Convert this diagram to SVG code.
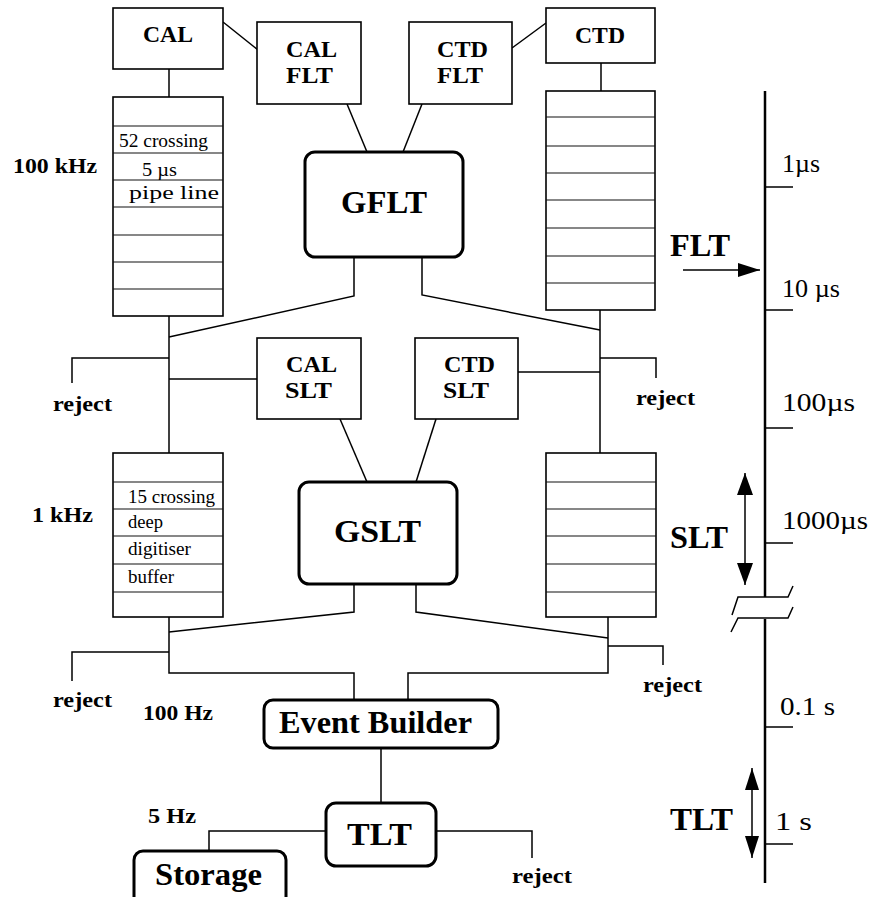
<svg xmlns="http://www.w3.org/2000/svg" width="871" height="897" viewBox="0 0 871 897">
<style>
.box{fill:#fff;stroke:#000;stroke-width:1.6}
.rbox{fill:#fff;stroke:#000;stroke-width:3}
.row{stroke:#111;stroke-width:1.2;fill:none}
.ln{stroke:#000;stroke-width:1.5;fill:none}
.ax{stroke:#000;stroke-width:2.5;fill:none}
.b{font-family:"Liberation Serif","Times New Roman",serif;font-weight:bold;fill:#000}
.r{font-family:"Liberation Serif","Times New Roman",serif;fill:#000}
</style>
<defs>
<marker id="ah" viewBox="0 0 22 14" refX="22" refY="7" markerWidth="22" markerHeight="14" markerUnits="userSpaceOnUse" orient="auto-start-reverse"><path d="M0,0 L22,7 L0,14 Z" fill="#000"/></marker>
<marker id="ah2" viewBox="0 0 22 16" refX="22" refY="8" markerWidth="22" markerHeight="16" markerUnits="userSpaceOnUse" orient="auto-start-reverse"><path d="M0,0 L22,8 L0,16 Z" fill="#000"/></marker>
</defs>
<rect width="871" height="897" fill="#fff"/>

<g id="connectors">
<path class="ln" d="M169,69 V97"/>
<path class="ln" d="M601,63 V91"/>
<path class="ln" d="M223,22 L258,50"/>
<path class="ln" d="M512,48 L546,23"/>
<path class="ln" d="M347,104 L367,152"/>
<path class="ln" d="M422,104 L403,152"/>
<path class="ln" d="M354,257 V296 L169,337"/>
<path class="ln" d="M422,257 V295 L600,330"/>
<path class="ln" d="M169,316 V453"/>
<path class="ln" d="M600,310 V453"/>
<path class="ln" d="M169,358 H72 V383"/>
<path class="ln" d="M169,379 H257"/>
<path class="ln" d="M518,372 H600"/>
<path class="ln" d="M600,358 H656 V378"/>
<path class="ln" d="M340,419 L367,482"/>
<path class="ln" d="M436,419 L416,482"/>
<path class="ln" d="M354,584 V612 L169,632"/>
<path class="ln" d="M416,584 V612 L608,638"/>
<path class="ln" d="M169,617 V673 H354 V700"/>
<path class="ln" d="M169,652 H72 V681"/>
<path class="ln" d="M608,617 V673 H408 V700"/>
<path class="ln" d="M608,646 H663 V665"/>
<path class="ln" d="M381,748 V803"/>
<path class="ln" d="M326,831 H209 V851"/>
<path class="ln" d="M436,831 H532 V858"/>
</g>

<g id="CAL"><rect class="box" x="113" y="8" width="110" height="61"/><text class="b" x="143" y="42" font-size="24" textLength="50" lengthAdjust="spacingAndGlyphs">CAL</text></g>
<g id="CTD"><rect class="box" x="546" y="8" width="109" height="55"/><text class="b" x="575" y="43" font-size="24" textLength="50" lengthAdjust="spacingAndGlyphs">CTD</text></g>
<g id="CAL_FLT"><rect class="box" x="257" y="22" width="104" height="82"/><text class="b" x="286" y="57" font-size="24" textLength="51" lengthAdjust="spacingAndGlyphs">CAL</text><text class="b" x="286" y="83" font-size="24" textLength="47" lengthAdjust="spacingAndGlyphs">FLT</text></g>
<g id="CTD_FLT"><rect class="box" x="409" y="22" width="103" height="82"/><text class="b" x="437" y="57" font-size="24" textLength="51" lengthAdjust="spacingAndGlyphs">CTD</text><text class="b" x="437" y="83" font-size="24" textLength="46" lengthAdjust="spacingAndGlyphs">FLT</text></g>

<g id="CAL_pipeline">
<rect class="box" x="113" y="97" width="110" height="219"/>
<path class="row" d="M113,126 H223 M113,153 H223 M113,180 H223 M113,207 H223 M113,235 H223 M113,262 H223 M113,289 H223"/>
<text class="r" x="119" y="147" font-size="19" textLength="89" lengthAdjust="spacingAndGlyphs">52 crossing</text>
<text class="r" x="142" y="176" font-size="19" textLength="35" lengthAdjust="spacingAndGlyphs">5 µs</text>
<text class="r" x="129" y="199" font-size="19" textLength="90" lengthAdjust="spacingAndGlyphs">pipe line</text>
</g>
<g id="CTD_pipeline">
<rect class="box" x="546" y="91" width="109" height="219"/>
<path class="row" d="M546,117 H655 M546,146 H655 M546,173 H655 M546,200 H655 M546,228 H655 M546,256 H655 M546,283 H655"/>
</g>

<g id="GFLT"><rect class="rbox" x="305" y="152" width="158" height="105" rx="10"/><text class="b" x="341" y="213" font-size="32" textLength="86" lengthAdjust="spacingAndGlyphs">GFLT</text></g>

<g id="CAL_SLT"><rect class="box" x="257" y="338" width="104" height="81"/><text class="b" x="286" y="372" font-size="24" textLength="51" lengthAdjust="spacingAndGlyphs">CAL</text><text class="b" x="285" y="398" font-size="24" textLength="47" lengthAdjust="spacingAndGlyphs">SLT</text></g>
<g id="CTD_SLT"><rect class="box" x="415" y="338" width="103" height="81"/><text class="b" x="444" y="372" font-size="24" textLength="51" lengthAdjust="spacingAndGlyphs">CTD</text><text class="b" x="443" y="398" font-size="24" textLength="46" lengthAdjust="spacingAndGlyphs">SLT</text></g>

<g id="CAL_buffer">
<rect class="box" x="113" y="453" width="110" height="164"/>
<path class="row" d="M113,482 H223 M113,509 H223 M113,536 H223 M113,564 H223 M113,592 H223"/>
<text class="r" x="128" y="503" font-size="19" textLength="87" lengthAdjust="spacingAndGlyphs">15 crossing</text>
<text class="r" x="128" y="528" font-size="19" textLength="35" lengthAdjust="spacingAndGlyphs">deep</text>
<text class="r" x="128" y="555" font-size="19" textLength="63" lengthAdjust="spacingAndGlyphs">digitiser</text>
<text class="r" x="128" y="583" font-size="19" textLength="46" lengthAdjust="spacingAndGlyphs">buffer</text>
</g>
<g id="CTD_buffer">
<rect class="box" x="546" y="453" width="110" height="164"/>
<path class="row" d="M546,482 H656 M546,509 H656 M546,536 H656 M546,564 H656 M546,592 H656"/>
</g>

<g id="GSLT"><rect class="rbox" x="299" y="482" width="158" height="102" rx="10"/><text class="b" x="334" y="542" font-size="32" textLength="87" lengthAdjust="spacingAndGlyphs">GSLT</text></g>

<g id="EventBuilder"><rect class="rbox" x="264" y="700" width="234" height="48" rx="9"/><text class="b" x="279" y="733" font-size="31" textLength="193" lengthAdjust="spacingAndGlyphs">Event Builder</text></g>
<g id="TLT"><rect class="rbox" x="326" y="803" width="110" height="63" rx="10"/><text class="b" x="347" y="845" font-size="32" textLength="65" lengthAdjust="spacingAndGlyphs">TLT</text></g>
<g id="Storage"><rect class="rbox" x="134" y="851" width="152" height="60" rx="9"/><text class="b" x="155" y="885" font-size="31" textLength="107" lengthAdjust="spacingAndGlyphs">Storage</text></g>

<g id="labels">
<text class="b" x="13" y="173" font-size="22" textLength="84" lengthAdjust="spacingAndGlyphs">100 kHz</text>
<text class="b" x="32" y="522" font-size="22" textLength="61" lengthAdjust="spacingAndGlyphs">1 kHz</text>
<text class="b" x="143" y="720" font-size="22" textLength="70" lengthAdjust="spacingAndGlyphs">100 Hz</text>
<text class="b" x="148" y="823" font-size="22" textLength="48" lengthAdjust="spacingAndGlyphs">5 Hz</text>
<text class="b" x="53" y="411" font-size="22" textLength="59" lengthAdjust="spacingAndGlyphs">reject</text>
<text class="b" x="636" y="405" font-size="22" textLength="59" lengthAdjust="spacingAndGlyphs">reject</text>
<text class="b" x="53" y="707" font-size="22" textLength="59" lengthAdjust="spacingAndGlyphs">reject</text>
<text class="b" x="643" y="692" font-size="22" textLength="59" lengthAdjust="spacingAndGlyphs">reject</text>
<text class="b" x="512" y="883" font-size="22" textLength="60" lengthAdjust="spacingAndGlyphs">reject</text>
</g>

<g id="timeline">
<path class="ax" d="M765,91 V597 M765,619 V883"/>
<path class="ln" d="M765,187 H793 M765,310 H793 M765,428 H793 M765,543 H793 M765,727 H793 M765,844 H793"/>
<path class="ln" d="M732,615 L738,597 H788 L793,586 M731,632 L738,618 H788 L793,607"/>
<text class="r" x="782" y="172" font-size="26" textLength="38" lengthAdjust="spacingAndGlyphs">1µs</text>
<text class="r" x="782" y="297" font-size="26" textLength="58" lengthAdjust="spacingAndGlyphs">10 µs</text>
<text class="r" x="782" y="411" font-size="26" textLength="73" lengthAdjust="spacingAndGlyphs">100µs</text>
<text class="r" x="782" y="529" font-size="26" textLength="86" lengthAdjust="spacingAndGlyphs">1000µs</text>
<text class="r" x="780" y="715" font-size="26" textLength="55" lengthAdjust="spacingAndGlyphs">0.1  s</text>
<text class="r" x="775" y="830" font-size="26" textLength="37" lengthAdjust="spacingAndGlyphs">1  s</text>
<text class="b" x="670" y="256" font-size="32" textLength="60" lengthAdjust="spacingAndGlyphs">FLT</text>
<text class="b" x="670" y="548" font-size="32" textLength="58" lengthAdjust="spacingAndGlyphs">SLT</text>
<text class="b" x="670" y="830" font-size="32" textLength="63" lengthAdjust="spacingAndGlyphs">TLT</text>
<path class="ln" d="M683,270 H760" marker-end="url(#ah)"/>
<path class="ln" d="M745,473 V585" marker-start="url(#ah2)" marker-end="url(#ah2)"/>
<path class="ln" d="M752,768 V858" marker-start="url(#ah)" marker-end="url(#ah)"/>
</g>
</svg>
